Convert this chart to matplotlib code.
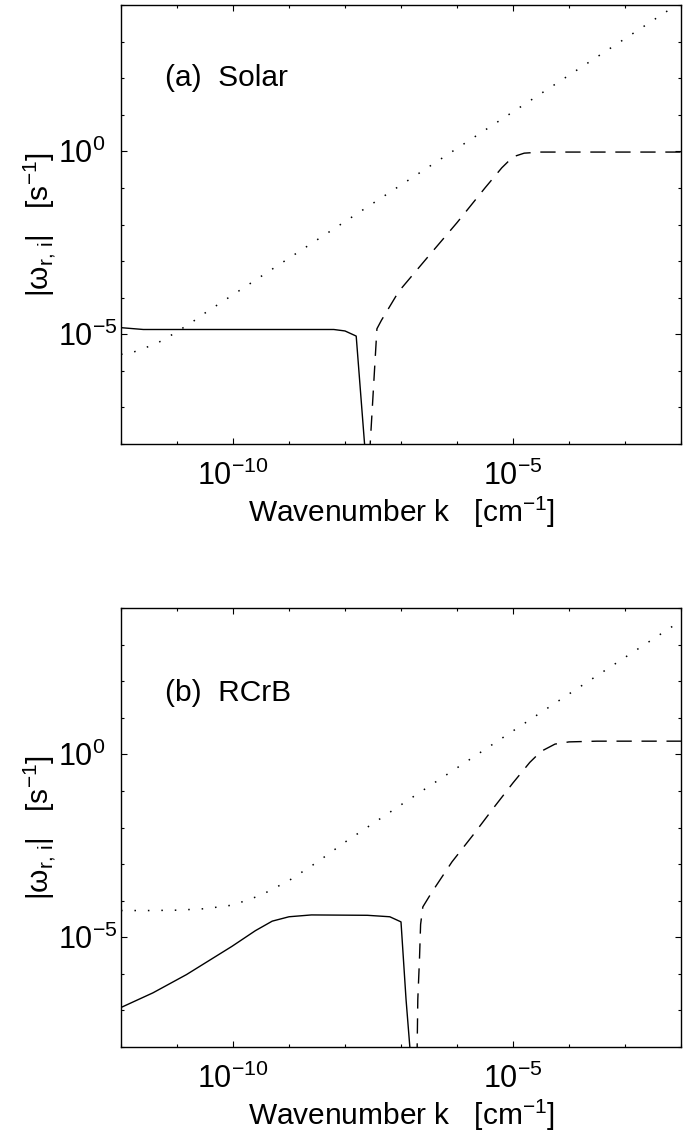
import numpy as np
import matplotlib.pyplot as plt
from matplotlib.ticker import FixedLocator, LogFormatterSciNotation, NullFormatter

plt.rcParams['font.family'] = ['Liberation Sans', 'DejaVu Sans']
plt.rcParams['mathtext.fontset'] = 'custom'
plt.rcParams['mathtext.rm'] = 'Liberation Sans'
plt.rcParams['mathtext.it'] = 'Liberation Sans:italic'
plt.rcParams['mathtext.bf'] = 'Liberation Sans:bold'
plt.rcParams['font.size'] = 21

# values, as log10 of k [cm^-1] and |omega| [s^-1]
# (a) Solar
logk_dot_a = [-12, -11.8, -11.6, -11.35, -11.15, -10.75, -10.5, -10, -9, -8, -7, -6, -5, -4, -3, -2]
logw_dot_a = [-5.55, -5.50, -5.39, -5.24, -5.07, -4.69, -4.42, -3.92, -2.92, -1.92, -0.92, 0.08, 1.08, 2.08, 3.08, 4.08]
logk_sol_a = [-12, -11.6, -10, -8.2, -8.0, -7.8, -7.6]
logw_sol_a = [-4.82, -4.87, -4.87, -4.87, -4.91, -5.05, -9.0]
logk_dash_a = [-7.61, -7.55, -7.43, -7.35, -7.04, -6.5, -6.0, -5.5, -5.2, -5.0, -4.8, -4.5, -2]
logw_dash_a = [-9.0, -8.0, -4.85, -4.62, -3.83, -2.85, -1.95, -1.0, -0.45, -0.15, -0.05, -0.02, -0.02]

# (b) RCrB
logk_dot_b = [-12, -11.5, -11, -10.5, -10, -9.5, -9, -8.5, -8, -7, -6, -5, -4, -3, -2]
logw_dot_b = [-4.27, -4.27, -4.26, -4.22, -4.12, -3.85, -3.45, -2.95, -2.40, -1.38, -0.37, 0.64, 1.65, 2.65, 3.65]
logk_sol_b = [-12, -11.43, -10.83, -10.02, -9.6, -9.3, -9.0, -8.6, -7.6, -7.2, -7.0, -6.91, -6.79]
logw_sol_b = [-6.92, -6.52, -6.02, -5.25, -4.82, -4.56, -4.44, -4.39, -4.40, -4.44, -4.58, -6.70, -9.0]
logk_dash_b = [-6.72, -6.70, -6.67, -6.65, -6.61, -6.45, -6.09, -5.70, -5.32, -5.0, -4.7, -4.5, -4.25, -4.0, -3.5, -2]
logw_dash_b = [-9.0, -6.70, -5.6, -4.65, -4.17, -3.77, -2.94, -2.18, -1.41, -0.78, -0.22, 0.08, 0.28, 0.34, 0.36, 0.36]

panels = [
    ('(a)  Solar', logk_dot_a, logw_dot_a, logk_sol_a, logw_sol_a, logk_dash_a, logw_dash_a, 0.834),
    ('(b)  RCrB', logk_dot_b, logw_dot_b, logk_sol_b, logw_sol_b, logk_dash_b, logw_dash_b, 0.806),
]

fig = plt.figure(figsize=(6.91, 11.34), dpi=100)
W, H = 691, 1134
boxes = [(121, 5, 681, 444), (121, 608, 681, 1047)]

for (name, kd, wd, ks, ws, kdash, wdash, ty), (x0, y0, x1, y1) in zip(panels, boxes):
    ax = fig.add_axes([x0 / W, 1 - y1 / H, (x1 - x0) / W, (y1 - y0) / H])
    ax.plot(10.0 ** np.array(kd), 10.0 ** np.array(wd), color='k', lw=1.1,
            linestyle=(0, (1, 7.8)))
    ax.plot(10.0 ** np.array(ks), 10.0 ** np.array(ws), color='k', lw=1.0)
    ax.plot(10.0 ** np.array(kdash), 10.0 ** np.array(wdash), color='k', lw=1.0,
            linestyle=(0, (11, 7)))
    ax.set_xscale('log')
    ax.set_yscale('log')
    ax.set_xlim(1e-12, 1e-2)
    ax.set_ylim(1e-8, 1e4)

    ax.xaxis.set_major_locator(FixedLocator([1e-10, 1e-5]))
    ax.xaxis.set_minor_locator(FixedLocator([10.0 ** e for e in range(-12, -1)]))
    ax.yaxis.set_major_locator(FixedLocator([1e-5, 1e0]))
    ax.yaxis.set_minor_locator(FixedLocator([10.0 ** e for e in range(-8, 5)]))
    ax.xaxis.set_major_formatter(LogFormatterSciNotation())
    ax.yaxis.set_major_formatter(LogFormatterSciNotation())
    ax.xaxis.set_minor_formatter(NullFormatter())
    ax.yaxis.set_minor_formatter(NullFormatter())
    ax.tick_params(which='both', direction='in', top=True, right=True, width=0.8)
    ax.tick_params(which='major', length=4)
    ax.tick_params(which='minor', length=2.5)
    ax.tick_params(axis='x', which='major', pad=12, labelsize=22)
    ax.tick_params(axis='y', which='major', pad=45, labelsize=22)
    plt.setp(ax.get_yticklabels(), ha='left')
    for s in ax.spines.values():
        s.set_linewidth(1.0)

    ax.set_xlabel('Wavenumber k   [cm$^{-1}$]', fontsize=21.5, labelpad=2)
    ax.set_ylabel(r'$|\mathrm{\omega}_{\mathrm{r,\,i}}|$   [s$^{-1}$]', fontsize=21.5)
    ax.yaxis.set_label_coords(-0.112, 0.5)
    ax.text(0.079, ty, name, transform=ax.transAxes, fontsize=21.5, va='center', ha='left')

fig.savefig('out.png', dpi=100)
